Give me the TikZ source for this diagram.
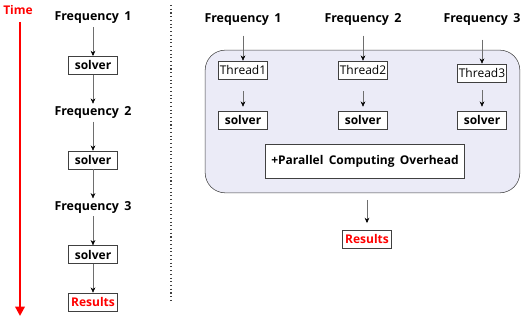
\documentclass[tikz,border=0pt]{standalone}
\usepackage{fontspec}
\setmainfont{Open Sans}[WordSpace=1.7]
\usetikzlibrary{arrows,arrows.meta,shapes,positioning}
\definecolor{tmred}{RGB}{255,0,0}
\definecolor{boxgray}{RGB}{64,64,64}
\definecolor{arrgray}{RGB}{110,110,110}
\definecolor{poolfill}{RGB}{235,235,247}
\tikzstyle{freq} = [font=\bfseries\fontsize{9.3}{11}\selectfont, text centered, inner sep=2pt]
\tikzstyle{solverbox} = [rectangle, minimum width=37pt, minimum height=13.5pt, inner sep=1pt, text centered, draw=boxgray, fill=white, font=\bfseries\fontsize{9}{11}\selectfont]
\tikzstyle{threadbox} = [solverbox, font=\fontsize{9}{10}\selectfont]
\tikzstyle{resultbox} = [solverbox, text=tmred]
\tikzstyle{pool} = [rectangle, rounded corners=15pt, draw=boxgray, fill=poolfill, minimum width=236pt, minimum height=107pt]
\tikzstyle{arrow} = [-{Stealth[length=4pt,width=3.5pt,color=black]}, color=arrgray]
\tikzstyle{timearrow} = [line width=2.2pt, color=tmred, -{Triangle[length=7pt,width=7pt]}]

\begin{document}
\begin{tikzpicture}[x=0.75pt, y=-0.75pt, node distance=35.5pt]
\useasboundingbox (0,0) rectangle (522,320);

% one frequency after the other
\node (time) [freq, text=tmred, font=\bfseries\fontsize{9}{11}\selectfont] at (18,10) {Time};
\coordinate (tstart) at (20,22);
\coordinate (tend) at (20,316);
\draw[timearrow] (tstart) -- (tend);

\node (sfreq1) [freq] at (93,18) {Frequency 1};
\node (ssolver1) [solverbox, below of=sfreq1] {solver};
\node (sfreq2) [freq, below of=ssolver1] {Frequency 2};
\node (ssolver2) [solverbox, below of=sfreq2] {solver};
\node (sfreq3) [freq, below of=ssolver2] {Frequency 3};
\node (ssolver3) [solverbox, below of=sfreq3] {solver};
\node (sresult) [resultbox, below of=ssolver3] {Results};

\draw[arrow] (sfreq1) -- (ssolver1);
\draw[arrow] (ssolver1) -- (sfreq2);
\draw[arrow] (sfreq2) -- (ssolver2);
\draw[arrow] (ssolver2) -- (sfreq3);
\draw[arrow] (sfreq3) -- (ssolver3);
\draw[arrow] (ssolver3) -- (sresult);

% split between the two runs
\coordinate (sepTop) at (171,5);
\coordinate (sepBot) at (171,302);
\draw[dotted, thick, color=boxgray] (sepTop) -- (sepBot);

% all frequencies at once
\node (pool) [pool] at (362.5,121.5) {};

\node (pfreq1) [freq] at (243,20) {Frequency 1};
\node (pfreq2) [freq] at (363,20) {Frequency 2};
\node (pfreq3) [freq] at (482,20) {Frequency 3};

\node (thread1) [threadbox] at (243,70) {Thread1};
\node (thread2) [threadbox] at (363,70) {Thread2};
\node (thread3) [threadbox] at (482,73) {Thread3};

\node (psolver1) [solverbox] at (243,120) {solver};
\node (psolver2) [solverbox] at (363,120) {solver};
\node (psolver3) [solverbox] at (482,120) {solver};

\node (overhead) [solverbox, minimum width=149pt, minimum height=25.5pt] at (365,161) {+Parallel Computing Overhead};

\node (presult) [resultbox] at (367,239) {Results};

\draw[arrow, shorten <=5pt] (pfreq1) -- (thread1);
\draw[arrow, shorten <=5pt] (pfreq2) -- (thread2);
\draw[arrow, shorten <=8pt] (pfreq3) -- (thread3);
\draw[arrow, shorten <=9pt, shorten >=3pt] (thread1) -- (psolver1);
\draw[arrow, shorten <=9pt, shorten >=3pt] (thread2) -- (psolver2);
\draw[arrow, shorten <=6pt, shorten >=3pt] (thread3) -- (psolver3);
\draw[arrow, shorten <=5pt, shorten >=5pt] (pool.south -| presult) -- (presult);
\end{tikzpicture}
\end{document}
